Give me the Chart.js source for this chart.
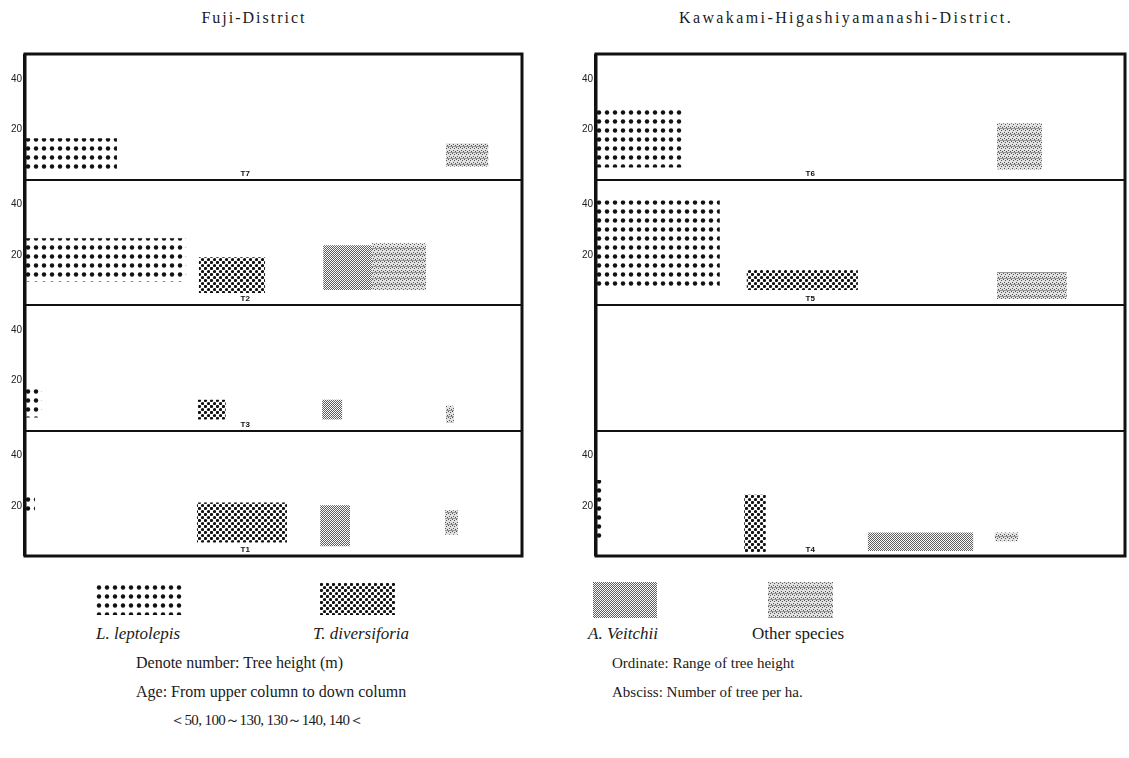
<!DOCTYPE html>
<html>
<head>
<meta charset="utf-8">
<script src="https://cdn.jsdelivr.net/npm/chart.js@4.4.1/dist/chart.umd.min.js"></script>
<style>
body { margin: 0; background: #fff; width: 1129px; height: 758px; position: relative; overflow: hidden;
  font-family: "Liberation Serif", "DejaVu Serif", serif; color: #1a1a1a; }
.t { position: absolute; white-space: nowrap; line-height: 20px; }
.title { font-size: 16px; letter-spacing: 2px; transform: translateX(-50%); }
.leg { font-size: 17px; font-style: italic; }
.note { font-size: 16px; }
.panel { position: absolute; }
.patch { position: absolute; }
</style>
</head>
<body>
<div class="t title" style="left:254px; top:8px">Fuji-District</div>
<div class="t title" style="left:846px; top:8px; letter-spacing:2.4px">Kawakami-Higashiyamanashi-District.</div>

<div class="panel" style="left:0px; top:45px"><canvas id="fuji" width="532" height="520"></canvas></div>
<div class="panel" style="left:571px; top:45px"><canvas id="kawa" width="558" height="520"></canvas></div>

<canvas class="patch" id="p_lep" width="89" height="32" style="left:95px; top:583px"></canvas>
<canvas class="patch" id="p_div" width="75" height="32" style="left:320px; top:583px"></canvas>
<canvas class="patch" id="p_vei" width="64" height="36" style="left:593px; top:582px"></canvas>
<canvas class="patch" id="p_oth" width="65" height="36" style="left:768px; top:582px"></canvas>

<div class="t leg" style="left:96px; top:624px">L. leptolepis</div>
<div class="t leg" style="left:313px; top:624px">T. diversiforia</div>
<div class="t leg" style="left:588px; top:624px">A. Veitchii</div>
<div class="t leg" style="left:752px; top:624px; font-style:normal">Other species</div>

<div class="t note" style="left:136px; top:653px">Denote number: Tree height (m)</div>
<div class="t note" style="left:136px; top:682px">Age: From upper column to down column</div>
<div class="t note" style="left:170px; top:710px; font-size:15px; letter-spacing:-0.6px">＜50, 100～130, 130～140, 140＜</div>
<div class="t note" style="left:612px; top:653px; font-size:15px">Ordinate: Range of tree height</div>
<div class="t note" style="left:612px; top:682px; font-size:15px">Absciss: Number of tree per ha.</div>

<script>
// rows from upper column (young) to down column (old)
const fujiRows = ['T7', 'T2', 'T3', 'T1'];
const kawaRows = ['T6', 'T5', '', 'T4'];
const heightTicks = [20, 40];
const rowSpan = 50; // height range shown in each column (m)

// number of trees per ha (relative abscissa span) and tree height range (m) per row
const fujiLeptolepisN = [[0, 18.5], [0, 32.4], [0, 3.4], [0, 2.0]];
const fujiLeptolepisH = [[3.2, 16.4], [9.3, 26.6], [5.2, 17.9], [17.4, 24.8]];
const fujiDiversiforiaN = [null, [35.0, 48.3], [34.8, 40.4], [34.6, 52.7]];
const fujiDiversiforiaH = [null, [4.8, 19.0], [4.4, 12.3], [5.4, 21.3]];
const fujiVeitchiiN = [null, [60.0, 69.8], [59.8, 63.8], [59.4, 65.4]];
const fujiVeitchiiH = [null, [6.0, 23.8], [4.4, 12.3], [3.9, 20.2]];
const fujiOtherN = [[84.7, 93.2], [69.8, 80.7], [84.7, 86.3], [84.5, 87.1]];
const fujiOtherH = [[5.2, 14.4], [6.0, 24.6], [3.2, 9.9], [8.5, 18.2]];

const kawaLeptolepisN = [[0, 16.4], [0, 23.4], null, [0, 1.2]];
const kawaLeptolepisH = [[4.8, 28.8], [6.3, 41.7], null, [6.7, 30.3]];
const kawaDiversiforiaN = [null, [28.5, 49.5], null, [28.0, 32.1]];
const kawaDiversiforiaH = [null, [6.0, 13.9], null, [1.6, 24.4]];
const kawaVeitchiiN = [null, null, null, [51.4, 71.3]];
const kawaVeitchiiH = [null, null, null, [2.0, 9.4]];
const kawaOtherN = [[75.8, 84.3], [75.8, 89.0], null, [75.4, 79.8]];
const kawaOtherH = [[4.0, 22.4], [2.4, 13.1], null, [5.9, 9.4]];

function makePattern(w, h, paint) {
  const c = document.createElement('canvas');
  c.width = w; c.height = h;
  const g = c.getContext('2d');
  paint(g);
  return g.createPattern(c, 'repeat');
}

const dotPattern = makePattern(8, 9, g => {
  g.fillStyle = '#111';
  g.beginPath(); g.arc(4, 4.5, 2.2, 0, Math.PI * 2); g.fill();
});
const checkPattern = makePattern(6, 6, g => {
  g.fillStyle = '#111';
  [[1.5, 1.5], [4.5, 4.5]].forEach(([x, y]) => {
    g.beginPath(); g.arc(x, y, 1.6, 0, Math.PI * 2); g.fill();
  });
});
const finePattern = makePattern(4, 4, g => {
  g.fillStyle = '#fafafa'; g.fillRect(0, 0, 4, 4);
  g.fillStyle = '#5e5e5e';
  for (let y = 0; y < 4; y++) for (let x = 0; x < 4; x++) if ((x + y) % 2 === 0) g.fillRect(x, y, 1, 1);
});
const greyPattern = makePattern(4, 6, g => {
  g.fillStyle = '#e2e2e2'; g.fillRect(0, 0, 4, 6);
  g.fillStyle = '#555';
  g.fillRect(0, 0, 1, 1); g.fillRect(2, 1, 1, 1); g.fillRect(1, 3, 1, 1); g.fillRect(3, 4, 1, 1);
  g.fillStyle = '#999'; g.fillRect(0, 5, 4, 1);
});

function fillPatch(id, pattern) {
  const c = document.getElementById(id);
  const g = c.getContext('2d');
  g.fillStyle = pattern;
  g.fillRect(0, 0, c.width, c.height);
}
fillPatch('p_lep', dotPattern);
fillPatch('p_div', checkPattern);
fillPatch('p_vei', finePattern);
fillPatch('p_oth', greyPattern);

const framePlugin = {
  id: 'frame',
  afterDraw(chart, args, opts) {
    const {ctx, chartArea: a, scales} = chart;
    ctx.save();
    ctx.strokeStyle = '#111';
    ctx.lineWidth = 3;
    ctx.strokeRect(a.left, a.top, a.right - a.left, a.bottom - a.top);
    ctx.lineWidth = 2;
    ctx.beginPath(); ctx.moveTo(a.left - 1, a.top); ctx.lineTo(a.left - 1, a.bottom); ctx.stroke();
    ctx.fillStyle = '#111';
    ctx.font = 'bold 8px "Liberation Sans"';
    ctx.textAlign = 'center';
    ctx.textBaseline = 'bottom';
    opts.rows.forEach((name, i) => {
      const base = (opts.rows.length - 1 - i) * rowSpan;
      ctx.fillText(name, scales.x.getPixelForValue(opts.labelAt), scales.y.getPixelForValue(base) - 2);
    });
    ctx.restore();
  }
};

function panelChart(id, rows, species, labelAt, padRight) {
  const datasets = [];
  const hasData = rows.map(() => false);
  species.forEach(sp => {
    sp.n.forEach((span, i) => {
      if (!span) return;
      hasData[i] = true;
      const base = (rows.length - 1 - i) * rowSpan;
      const h = sp.h[i];
      datasets.push({
        label: sp.name,
        data: [
          {x: span[0], y: base + h[0]},
          {x: span[1], y: base + h[0]},
          {x: span[1], y: base + h[1]},
          {x: span[0], y: base + h[1]},
          {x: span[0], y: base + h[0]}
        ],
        showLine: true,
        fill: 'shape',
        backgroundColor: sp.pattern,
        borderColor: 'rgba(0,0,0,0)',
        borderWidth: 0,
        pointRadius: 0,
        tension: 0
      });
    });
  });

  return new Chart(document.getElementById(id), {
    type: 'scatter',
    data: {datasets: datasets},
    options: {
      responsive: false,
      animation: false,
      layout: {padding: {left: 0, top: 8, right: padRight, bottom: 8}},
      plugins: {
        legend: {display: false},
        tooltip: {enabled: false},
        frame: {rows: rows, labelAt: labelAt}
      },
      scales: {
        x: {type: 'linear', min: 0, max: 100, display: false},
        y: {
          type: 'linear', min: 0, max: rows.length * rowSpan,
          afterFit: scale => { scale.width = 25; },
          border: {display: false},
          grid: {
            drawTicks: false,
            lineWidth: 2,
            color: c => (c.tick && c.tick.value % rowSpan === 0) ? '#111' : 'rgba(0,0,0,0)'
          },
          ticks: {
            stepSize: 10,
            autoSkip: false,
            padding: 3,
            color: '#222',
            font: {size: 10, family: 'Liberation Sans'},
            callback: v => {
              const row = rows.length - 1 - Math.floor(v / rowSpan);
              const r = v % rowSpan;
              return heightTicks.includes(r) && hasData[row] ? String(r) : '';
            }
          }
        }
      }
    },
    plugins: [framePlugin]
  });
}

panelChart('fuji', fujiRows, [
  {name: 'L. leptolepis', n: fujiLeptolepisN, h: fujiLeptolepisH, pattern: dotPattern},
  {name: 'T. diversiforia', n: fujiDiversiforiaN, h: fujiDiversiforiaH, pattern: checkPattern},
  {name: 'A. Veitchii', n: fujiVeitchiiN, h: fujiVeitchiiH, pattern: finePattern},
  {name: 'Other species', n: fujiOtherN, h: fujiOtherH, pattern: greyPattern}
], 44.3, 10);

panelChart('kawa', kawaRows, [
  {name: 'L. leptolepis', n: kawaLeptolepisN, h: kawaLeptolepisH, pattern: dotPattern},
  {name: 'T. diversiforia', n: kawaDiversiforiaN, h: kawaDiversiforiaH, pattern: checkPattern},
  {name: 'A. Veitchii', n: kawaVeitchiiN, h: kawaVeitchiiH, pattern: finePattern},
  {name: 'Other species', n: kawaOtherN, h: kawaOtherH, pattern: greyPattern}
], 40.5, 4);
</script>
</body>
</html>
